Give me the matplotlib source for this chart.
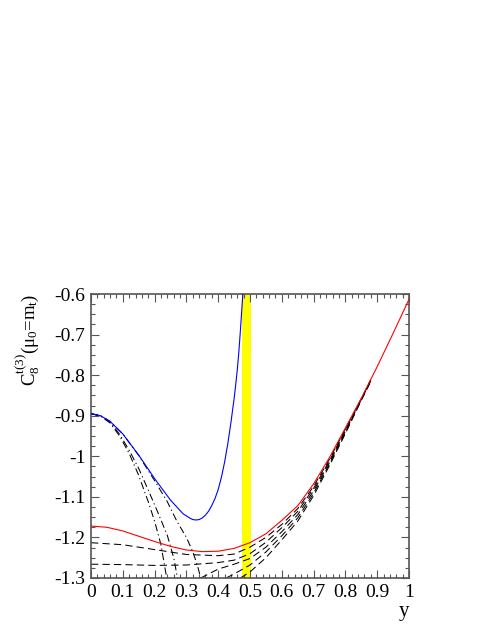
import numpy as np
import matplotlib
matplotlib.use("Agg")
import matplotlib.pyplot as plt
from matplotlib.ticker import FixedLocator, FixedFormatter, MultipleLocator

plt.rcParams['font.family'] = ['Liberation Serif', 'DejaVu Serif']
plt.rcParams['mathtext.fontset'] = 'custom'
plt.rcParams['mathtext.rm'] = 'Liberation Serif'
plt.rcParams['mathtext.it'] = 'Liberation Serif:italic'
plt.rcParams['mathtext.default'] = 'regular'

# valeurs
blue_x = [0, 0.03, 0.06, 0.1, 0.15, 0.2, 0.25, 0.27, 0.29, 0.31, 0.32, 0.33, 0.34,
          0.35, 0.36, 0.37, 0.38, 0.39, 0.40, 0.41, 0.42, 0.43, 0.44, 0.45, 0.455,
          0.46, 0.465, 0.47, 0.4775]
blue_y = [-0.895, -0.900, -0.914, -0.945, -0.997, -1.055, -1.108, -1.125, -1.142,
          -1.152, -1.156, -1.157, -1.156, -1.152, -1.145, -1.135, -1.121, -1.104,
          -1.082, -1.052, -1.015, -0.970, -0.917, -0.858, -0.824, -0.787, -0.742,
          -0.688, -0.60]

red_x = [0, 0.05, 0.1, 0.15, 0.2, 0.25, 0.3, 0.35, 0.4, 0.45, 0.5, 0.55, 0.6, 0.65,
         0.7, 0.75, 0.8, 0.85, 0.9, 0.95, 1.0]
red_y = [-1.172, -1.175, -1.184, -1.197, -1.210, -1.222, -1.231, -1.235, -1.234,
         -1.227, -1.213, -1.191, -1.158, -1.122, -1.068, -1.003, -0.930, -0.857,
         -0.779, -0.697, -0.613]

# courbes en tirets-points (partent de la courbe bleue)
dd1_x = [0, 0.03, 0.06, 0.09, 0.12, 0.15, 0.18, 0.2, 0.22, 0.238]
dd1_y = [-0.895, -0.901, -0.918, -0.950, -0.993, -1.047, -1.112, -1.160, -1.218, -1.30]
dd2_x = [0, 0.03, 0.06, 0.09, 0.12, 0.15, 0.18, 0.21, 0.24, 0.26, 0.272]
dd2_y = [-0.895, -0.900, -0.915, -0.946, -0.985, -1.030, -1.083, -1.138, -1.195, -1.25, -1.30]
dd3_x = [0, 0.03, 0.06, 0.1, 0.15, 0.2, 0.24, 0.27, 0.3, 0.32, 0.335, 0.345]
dd3_y = [-0.895, -0.900, -0.914, -0.945, -0.998, -1.060, -1.112, -1.160, -1.200,
         -1.235, -1.27, -1.30]

# courbes en tirets (rejoignent la courbe rouge)
d1_x = [0, 0.1, 0.2, 0.3, 0.4, 0.45, 0.5, 0.55, 0.6, 0.65, 0.7, 0.75, 0.8, 0.85, 0.88]
d1_y = [-1.213, -1.218, -1.230, -1.242, -1.245, -1.241, -1.224, -1.200, -1.168,
        -1.129, -1.074, -1.007, -0.933, -0.858, -0.811]
d2_x = [0, 0.1, 0.2, 0.3, 0.4, 0.45, 0.5, 0.55, 0.6, 0.65, 0.7, 0.75, 0.8, 0.85, 0.88]
d2_y = [-1.266, -1.267, -1.269, -1.268, -1.262, -1.256, -1.240, -1.212, -1.176,
        -1.136, -1.079, -1.011, -0.935, -0.859, -0.812]
d3_x = [0.345, 0.4, 0.45, 0.5, 0.55, 0.6, 0.65, 0.7, 0.75, 0.8, 0.85, 0.88]
d3_y = [-1.30, -1.278, -1.266, -1.252, -1.224, -1.186, -1.144, -1.085, -1.015,
        -0.938, -0.860, -0.813]
d4_x = [0.425, 0.45, 0.5, 0.55, 0.6, 0.65, 0.7, 0.75, 0.8, 0.85, 0.88]
d4_y = [-1.30, -1.290, -1.268, -1.236, -1.196, -1.152, -1.091, -1.019, -0.941,
        -0.861, -0.814]
d5_x = [0.47, 0.5, 0.55, 0.6, 0.65, 0.7, 0.75, 0.8, 0.85, 0.88]
d5_y = [-1.30, -1.285, -1.250, -1.206, -1.160, -1.097, -1.023, -0.944, -0.862, -0.815]

band = (0.474, 0.503)

xticks = [0, 0.1, 0.2, 0.3, 0.4, 0.5, 0.6, 0.7, 0.8, 0.9, 1.0]
xtick_labels = ['0', '0.1', '0.2', '0.3', '0.4', '0.5', '0.6', '0.7', '0.8', '0.9', '1']
yticks = [-1.3, -1.2, -1.1, -1.0, -0.9, -0.8, -0.7, -0.6]
ytick_labels = ['-1.3', '-1.2', '-1.1', '-1', '-0.9', '-0.8', '-0.7', '-0.6']

fig = plt.figure(figsize=(4.91, 6.35), dpi=100)
ax = fig.add_axes([91 / 491, 1 - 578 / 635, 318 / 491, 284 / 635])

ax.axvspan(band[0], band[1], color='#ffff00', lw=0, zorder=1)

dashdot = (0, (7, 3, 1.2, 3))
for xs, ys in [(dd1_x, dd1_y), (dd2_x, dd2_y), (dd3_x, dd3_y)]:
    ax.plot(xs, ys, color='black', lw=0.75, linestyle=dashdot, zorder=2)
for xs, ys in [(d1_x, d1_y), (d2_x, d2_y), (d3_x, d3_y), (d4_x, d4_y), (d5_x, d5_y)]:
    ax.plot(xs, ys, color='black', lw=0.75, linestyle=(0, (7, 4)), zorder=2)

ax.plot(blue_x, blue_y, color='blue', lw=0.8, zorder=3)
ax.plot(red_x, red_y, color='red', lw=0.8, zorder=3)

ax.set_xlim(0, 1)
ax.set_ylim(-1.3, -0.6)

ax.xaxis.set_major_locator(FixedLocator(xticks))
ax.xaxis.set_major_formatter(FixedFormatter(xtick_labels))
ax.yaxis.set_major_locator(FixedLocator(yticks))
ax.yaxis.set_major_formatter(FixedFormatter(ytick_labels))
ax.xaxis.set_minor_locator(MultipleLocator(0.02))
ax.yaxis.set_minor_locator(MultipleLocator(0.025))

ax.tick_params(which='both', direction='in', top=True, right=True,
               color='#555555', width=0.8)
ax.tick_params(which='major', length=6, labelsize=14, pad=4)
ax.tick_params(which='minor', length=3)
for s in ax.spines.values():
    s.set_color('#555555')
    s.set_linewidth(1.2)

ax.set_ylabel(r'C$_8^{t(3)}$(μ$_0$=m$_t$)', fontsize=13.5, loc='top', labelpad=9)
ax.set_xlabel('y', fontsize=15, loc='right', labelpad=1)

fig.savefig('out.png', dpi=100)
